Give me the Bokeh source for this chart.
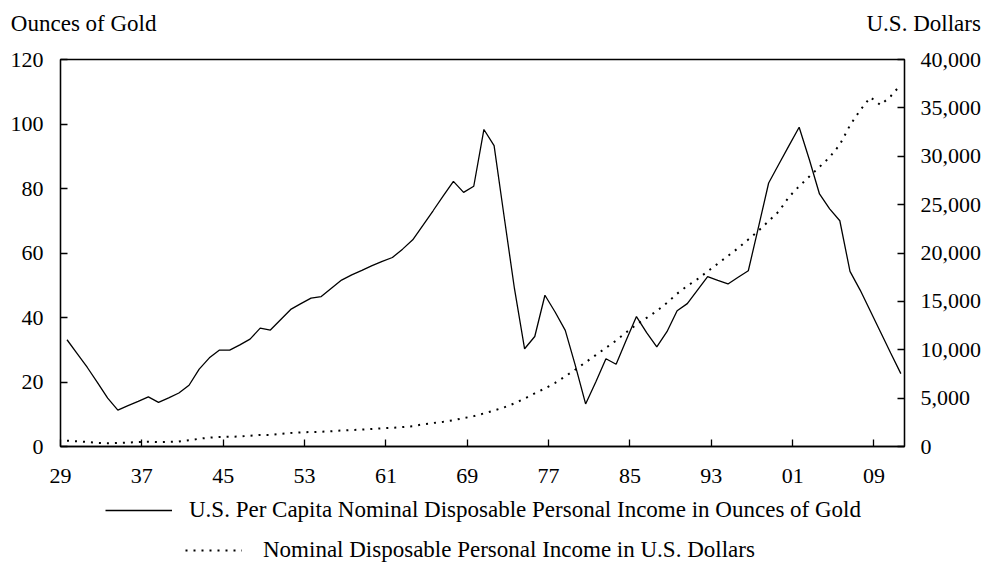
from bokeh.plotting import figure
from bokeh.layouts import column
from bokeh.models import (Range1d, LinearAxis, FixedTicker, NumeralTickFormatter,
                          Legend, LegendItem)
from bokeh.embed import file_html
from bokeh.resources import INLINE

# ---------------- data ----------------
years = list(range(1929, 2012))

gold_ounces = [
    33.1, 28.8, 24.5, 19.8, 15.0, 11.3, 12.7, 14.0, 15.4, 13.7,   # 1929-1938
    15.1, 16.6, 19.0, 24.0, 27.5, 29.9, 29.9, 31.5, 33.3, 36.7,   # 1939-1948
    36.1, 39.3, 42.5, 44.3, 46.0, 46.5, 49.1, 51.6, 53.2, 54.6,   # 1949-1958
    56.1, 57.4, 58.6, 61.2, 64.1, 68.6, 73.1, 77.7, 82.2, 78.8,   # 1959-1968
    80.7, 98.3, 93.3, 71.0, 49.0, 30.3, 34.1, 46.9, 41.7, 36.0,   # 1969-1978
    25.0, 13.2, 20.0, 27.2, 25.5, 33.0, 40.3, 35.3, 30.9, 35.6,   # 1979-1988
    42.1, 44.3, 48.5, 52.7, 51.5, 50.4, 52.5, 54.5, 68.0, 81.7,   # 1989-1998
    87.5, 93.3, 99.0, 89.0, 78.3, 73.7, 70.0, 54.3, 48.5, 42.0,   # 1999-2008
    35.5, 29.0, 22.6,                                             # 2009-2011
]

income_dollars = [
    600, 540, 470, 370, 340, 370, 410, 460, 490, 450,             # 1929-1938
    480, 510, 650, 800, 920, 990, 1000, 1040, 1110, 1200,         # 1939-1948
    1190, 1300, 1400, 1450, 1500, 1520, 1580, 1650, 1700, 1750,   # 1949-1958
    1820, 1880, 1930, 2010, 2100, 2290, 2430, 2560, 2720, 2930,   # 1959-1968
    3140, 3420, 3720, 4050, 4460, 4950, 5500, 6000, 6580, 7250,   # 1969-1978
    7960, 8700, 9450, 10200, 10950, 11800, 12600, 13300, 14000, 14850,  # 1979-1988
    15800, 16600, 17300, 18100, 18900, 19700, 20500, 21400, 22300, 23300,  # 1989-1998
    24300, 25800, 26900, 27900, 28900, 29900, 31200, 33200, 34750, 36100,  # 1999-2008
    35300, 36200, 37400,                                          # 2009-2011
]

x_tick_years = [1929, 1937, 1945, 1953, 1961, 1969, 1977, 1985, 1993, 2001, 2009]
x_tick_labels = ["29", "37", "45", "53", "61", "69", "77", "85", "93", "01", "09"]
left_ticks = [0, 20, 40, 60, 80, 100, 120]
right_ticks = [0, 5000, 10000, 15000, 20000, 25000, 30000, 35000, 40000]

left_title = "Ounces of Gold"
right_title = "U.S. Dollars"
series_names = ["U.S. Per Capita Nominal Disposable Personal Income in Ounces of Gold",
                "Nominal Disposable Personal Income in U.S. Dollars"]

# ---------------- styling ----------------
FONT = "Liberation Serif"
TICK_SIZE = "22px"
TEXT_SIZE = "23px"
INK = "black"
HEAD_H = 45
FOOT_H = 67
BORDER_L, BORDER_R = 60, 76
FRAME_W, FRAME_H = 844, 387
GOLD_STYLE = dict(line_color=INK, line_width=1.3)
USD_STYLE = dict(line_color=INK, line_width=2, line_dash="2 6")
NAN = float("nan")


def style_axis(ax):
    ax.axis_line_color = INK
    ax.axis_line_width = 1.3
    ax.major_tick_line_color = INK
    ax.major_tick_line_width = 1.3
    ax.major_tick_in = 7
    ax.major_tick_out = 0
    ax.minor_tick_line_color = None
    ax.major_label_text_font = FONT
    ax.major_label_text_font_size = TICK_SIZE
    ax.major_label_text_color = INK


def heading_axis(text, standoff):
    """Axis carrying a single label, used as a corner heading above the chart."""
    mid = HEAD_H - 23
    ax = LinearAxis(ticker=FixedTicker(ticks=[mid]),
                    major_label_overrides={mid: text},
                    major_label_standoff=standoff,
                    axis_line_color=None, major_tick_line_color=None,
                    minor_tick_line_color=None, major_tick_in=0, major_tick_out=0)
    ax.major_label_text_font = FONT
    ax.major_label_text_font_size = TEXT_SIZE
    ax.major_label_text_color = INK
    return ax


def strip(height, y_end):
    return figure(frame_width=FRAME_W, height=height, min_border=0,
                  min_border_left=BORDER_L, min_border_right=BORDER_R,
                  x_range=Range1d(0, 1), y_range=Range1d(0, y_end),
                  x_axis_type=None, y_axis_type=None, title_location=None,
                  output_backend="svg", toolbar_location=None,
                  outline_line_color=None, background_fill_color="white",
                  border_fill_color="white")


# ---------------- header strip with the two axis headings ----------------
head = strip(HEAD_H, HEAD_H)
head.grid.visible = False
head.add_layout(heading_axis(left_title, -96), "left")
head.add_layout(heading_axis(right_title, -38), "right")

# ---------------- main chart ----------------
# categories are centred inside yearly slots
xpos = [y + 0.64 for y in years]

p = figure(frame_width=FRAME_W, frame_height=FRAME_H,
           min_border_left=BORDER_L, min_border_right=BORDER_R,
           min_border_top=14, min_border_bottom=50,
           x_range=Range1d(1929, 2012), y_range=Range1d(0, 120),
           title_location=None,
           output_backend="svg", toolbar_location=None,
           background_fill_color="white", border_fill_color="white")
p.extra_y_ranges = {"usd": Range1d(0, 40000)}
p.grid.visible = False
p.outline_line_color = INK
p.outline_line_width = 1.3
p.outline_line_alpha = 1.0

p.line(xpos, gold_ounces, **GOLD_STYLE)
p.line(xpos, income_dollars, y_range_name="usd", **USD_STYLE)

xa = p.xaxis[0]
xa.ticker = FixedTicker(ticks=x_tick_years)
xa.major_label_overrides = {y: t for y, t in zip(x_tick_years, x_tick_labels)}
xa.major_label_standoff = 22
style_axis(xa)

ya = p.yaxis[0]
ya.ticker = FixedTicker(ticks=left_ticks)
ya.major_label_standoff = 17
style_axis(ya)

ra = LinearAxis(y_range_name="usd", ticker=FixedTicker(ticks=right_ticks),
                formatter=NumeralTickFormatter(format="0,0"))
ra.major_label_standoff = 16
style_axis(ra)
p.add_layout(ra, "right")

# ---------------- footer strip with the series key ----------------
foot = strip(FOOT_H, FOOT_H)
foot.grid.visible = False
# key-only renderers (a single missing value, so nothing is drawn in the strip itself)
key_gold = foot.line(x=[NAN], y=[NAN], **GOLD_STYLE)
key_usd = foot.line(x=[NAN], y=[NAN], **USD_STYLE)


def make_legend(renderer, label, loc, glyph_w, standoff):
    return Legend(items=[LegendItem(label=label, renderers=[renderer])],
                  location=loc, orientation="vertical",
                  glyph_width=glyph_w, glyph_height=26, label_height=26,
                  label_standoff=standoff, padding=0, margin=0, spacing=0,
                  border_line_color=None, background_fill_alpha=0.0,
                  label_text_font=FONT, label_text_font_size=TEXT_SIZE,
                  label_text_color=INK)

foot.add_layout(make_legend(key_gold, series_names[0], (45, 40), 67, 17))
foot.add_layout(make_legend(key_usd, series_names[1], (125, 0), 57, 21))

open("out.html", "w").write(file_html(column(head, p, foot, spacing=0), INLINE))
